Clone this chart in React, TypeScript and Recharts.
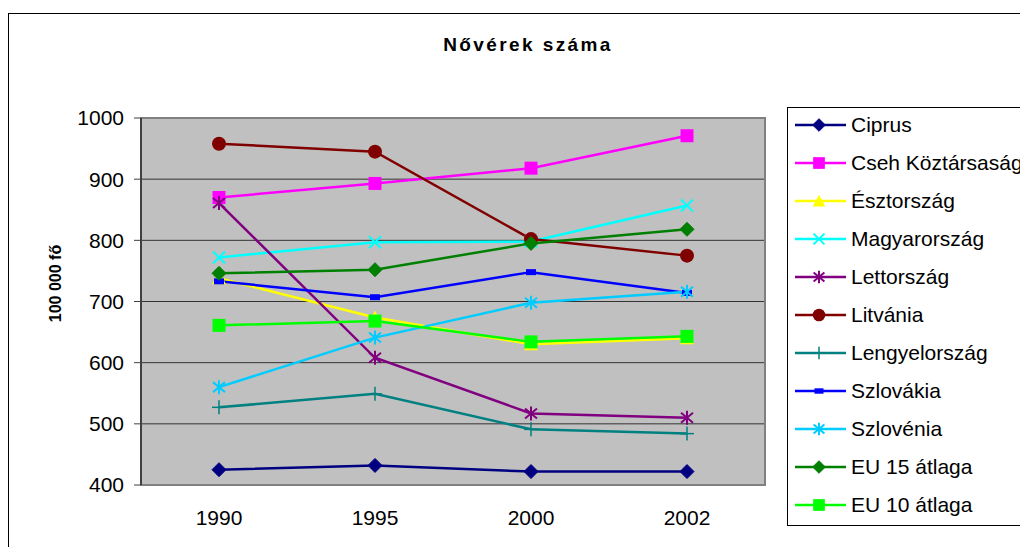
import {
  LineChart,
  Line,
  XAxis,
  YAxis,
  CartesianGrid,
  ReferenceArea,
} from "recharts";

const years = ["1990", "1995", "2000", "2002"];

const ciprus = [425, 432, 422, 422];
const cseh = [870, 893, 918, 971];
const esztorszag = [738, 674, 630, 640];
const magyarorszag = [772, 797, 798, 857];
const lettorszag = [861, 608, 517, 510];
const litvania = [958, 945, 802, 775];
const lengyelorszag = [527, 549, 491, 484];
const szlovakia = [733, 707, 748, 714];
const szlovenia = [560, 641, 698, 716];
const eu15 = [746, 752, 795, 818];
const eu10 = [661, 668, 634, 643];

const yTicks = [400, 500, 600, 700, 800, 900, 1000];

type MarkerType =
  | "diamond"
  | "square"
  | "triangle"
  | "cross"
  | "star"
  | "circle"
  | "plus"
  | "dash";

const series: { key: string; name: string; color: string; marker: MarkerType; values: number[] }[] = [
  { key: "ciprus", name: "Ciprus", color: "#000080", marker: "diamond", values: ciprus },
  { key: "cseh", name: "Cseh Köztársaság", color: "#FF00FF", marker: "square", values: cseh },
  { key: "eszt", name: "Észtország", color: "#FFFF00", marker: "triangle", values: esztorszag },
  { key: "magyar", name: "Magyarország", color: "#00FFFF", marker: "cross", values: magyarorszag },
  { key: "lett", name: "Lettország", color: "#800080", marker: "star", values: lettorszag },
  { key: "litv", name: "Litvánia", color: "#800000", marker: "circle", values: litvania },
  { key: "lengyel", name: "Lengyelország", color: "#008080", marker: "plus", values: lengyelorszag },
  { key: "szlovakia", name: "Szlovákia", color: "#0000FF", marker: "dash", values: szlovakia },
  { key: "szlovenia", name: "Szlovénia", color: "#00CCFF", marker: "star", values: szlovenia },
  { key: "eu15", name: "EU 15 átlaga", color: "#008000", marker: "diamond", values: eu15 },
  { key: "eu10", name: "EU 10 átlaga", color: "#00FF00", marker: "square", values: eu10 },
];

const data = years.map((year, i) => {
  const row: Record<string, string | number> = { year };
  series.forEach((s) => (row[s.key] = s.values[i]));
  return row;
});

const edgeTicks = [...years.map((_, i) => i), years.length];

const FONT = '"Liberation Sans", Arial, sans-serif';

function Marker({ type, cx, cy, color, k = 1 }: { type: MarkerType; cx: number; cy: number; color: string; k?: number }) {
  const s = 7 * k;
  switch (type) {
    case "diamond":
      return (
        <polygon
          points={`${cx},${cy - s} ${cx + s},${cy} ${cx},${cy + s} ${cx - s},${cy}`}
          fill={color}
          stroke={color}
        />
      );
    case "square":
      return <rect x={cx - 6.5 * k} y={cy - 6.5 * k} width={13 * k} height={13 * k} fill={color} />;
    case "triangle":
      return (
        <polygon
          points={`${cx},${cy - s} ${cx + s},${cy + 6 * k} ${cx - s},${cy + 6 * k}`}
          fill={color}
        />
      );
    case "cross":
      return (
        <g stroke={color} strokeWidth={2}>
          <line x1={cx - 6 * k} y1={cy - 6 * k} x2={cx + 6 * k} y2={cy + 6 * k} />
          <line x1={cx - 6 * k} y1={cy + 6 * k} x2={cx + 6 * k} y2={cy - 6 * k} />
        </g>
      );
    case "star":
      return (
        <g stroke={color} strokeWidth={2}>
          <line x1={cx - 6 * k} y1={cy - 5 * k} x2={cx + 6 * k} y2={cy + 5 * k} />
          <line x1={cx - 6 * k} y1={cy + 5 * k} x2={cx + 6 * k} y2={cy - 5 * k} />
          <line x1={cx} y1={cy - s} x2={cx} y2={cy + s} />
        </g>
      );
    case "circle":
      return <circle cx={cx} cy={cy} r={s} fill={color} />;
    case "plus":
      return (
        <g stroke={color} strokeWidth={1.5}>
          <line x1={cx - s} y1={cy} x2={cx + s} y2={cy} />
          <line x1={cx} y1={cy - s} x2={cx} y2={cy + s} />
        </g>
      );
    case "dash":
      return <rect x={cx - 5 * k} y={cy - 3 * k} width={10 * k} height={6 * k} fill={color} />;
  }
  return null;
}

export default function App() {
  return (
    <div style={{ position: "relative", width: 1020, height: 539, overflow: "hidden", fontFamily: FONT }}>
      <div
        style={{
          position: "absolute",
          left: 0,
          top: 5,
          width: 1100,
          height: 600,
          border: "1px solid #000",
          background: "#fff",
        }}
      />
      <div
        style={{
          position: "absolute",
          left: 0,
          top: 27,
          width: 1040,
          textAlign: "center",
          fontSize: 19,
          lineHeight: "20px",
          fontWeight: "bold",
          letterSpacing: 2.4,
        }}
      >
        Nővérek száma
      </div>
      <div style={{ position: "absolute", left: 0, top: 0 }}>
        <LineChart
          width={1020}
          height={539}
          data={data}
          margin={{ top: 110, right: 263, bottom: 22, left: 0 }}
        >
          <CartesianGrid
            xAxisId="band"
            vertical={false}
            stroke="#333333"
            fill="#C0C0C0"
            fillOpacity={1}
          />
          <XAxis
            xAxisId="edges"
            type="number"
            domain={[0, years.length]}
            ticks={edgeTicks}
            allowDataOverflow
            height={0}
            tick={false}
            tickSize={7}
            tickLine={{ stroke: "#404040" }}
            axisLine={{ stroke: "#404040", strokeWidth: 2 }}
          />
          <XAxis
            xAxisId="band"
            dataKey="year"
            scale="band"
            height={40}
            axisLine={false}
            tickLine={false}
            tickSize={0}
            tickMargin={25}
            tick={{ fontSize: 21, fill: "#000", fontFamily: FONT }}
          />
          <YAxis
            domain={[400, 1000]}
            ticks={yTicks}
            width={133}
            interval={0}
            tickSize={7}
            tickMargin={10}
            tickLine={{ stroke: "#404040" }}
            axisLine={{ stroke: "#404040", strokeWidth: 2 }}
            tick={{ fontSize: 21, fill: "#000", fontFamily: FONT }}
            label={{
              content: ({ viewBox }: any) => {
                const cx = viewBox.x + 47;
                const cy = viewBox.y + viewBox.height / 2 - 18;
                return (
                  <text
                    x={cx}
                    y={cy}
                    transform={`rotate(-90, ${cx}, ${cy})`}
                    textAnchor="middle"
                    dominantBaseline="central"
                    fontSize={16}
                    fontWeight="bold"
                    fontFamily={FONT}
                    fill="#000"
                  >
                    100 000 fő
                  </text>
                );
              },
            }}
          />
          <ReferenceArea
            xAxisId="band"
            y1={400}
            y2={1000}
            fill="none"
            stroke="#808080"
            strokeWidth={2}
          />
          {series.map((s) => (
            <Line
              key={s.key}
              xAxisId="band"
              dataKey={s.key}
              name={s.name}
              stroke={s.color}
              strokeWidth={2.5}
              isAnimationActive={false}
              activeDot={false}
              dot={(p: any) => (
                <Marker key={`${s.key}-${p.index}`} type={s.marker} cx={p.cx} cy={p.cy} color={s.color} />
              )}
            />
          ))}
        </LineChart>
      </div>
      <div
        style={{
          position: "absolute",
          left: 779,
          top: 99,
          width: 300,
          height: 417,
          border: "1px solid #000",
          background: "#fff",
        }}
      >
        {series.map((s, i) => (
          <div
            key={s.key}
            style={{
              position: "absolute",
              left: 0,
              top: i * 38 - 2,
              height: 38,
              display: "flex",
              alignItems: "center",
              whiteSpace: "nowrap",
              fontSize: 21,
            }}
          >
            <svg width={63} height={38}>
              <line x1={7} y1={19} x2={58} y2={19} stroke={s.color} strokeWidth={2.5} />
              <Marker type={s.marker} cx={31} cy={19} color={s.color} k={0.9} />
            </svg>
            <span>{s.name}</span>
          </div>
        ))}
      </div>
    </div>
  );
}
